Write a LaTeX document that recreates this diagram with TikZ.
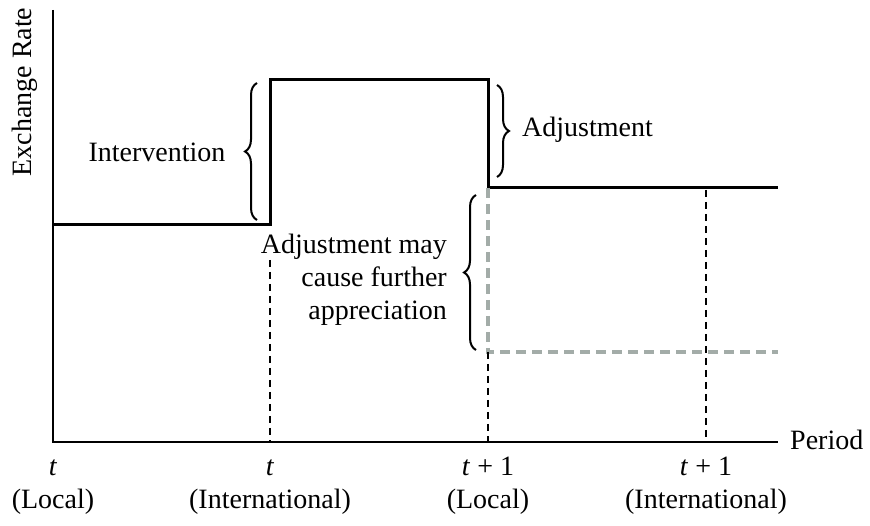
\documentclass[tikz,border=0pt]{standalone}
\usepackage{fontspec}
\setmainfont{Liberation Serif}
\usetikzlibrary{decorations.pathreplacing}

\definecolor{grayline}{RGB}{163,172,168}

\begin{document}
\begin{tikzpicture}[x=1pt,y=1pt,
            every node/.style={font=\fontsize{28}{33}\selectfont,inner sep=0pt},
            axis/.style={line width=1.4pt},
            rate/.style={line width=3pt},
            guide/.style={line width=1.2pt,dash pattern=on 7pt off 5pt},
            further/.style={grayline,line width=3.5pt,dash pattern=on 10pt off 6pt},
            bracket/.style={decorate,decoration={brace,amplitude=12pt},line width=2pt},
            ticklabel/.style={align=center,below=10pt}]

            \useasboundingbox (0,0) rectangle (870,525);

            % axes
            \coordinate (origin) at (53,83);
            \coordinate (ytop) at (53,515);
            \coordinate (xend) at (778,83);
            \draw[axis] (ytop) -- (origin) -- (xend);
            \node[rotate=90] (ylab) at (25,433) {Exchange Rate};
            \node[anchor=west] (xlab) at (790,85) {Period};

            % exchange rate path
            \coordinate (start) at (53,300);
            \coordinate (up0) at (270,300);
            \coordinate (up1) at (270,445);
            \coordinate (down0) at (488,445);
            \coordinate (down1) at (488,337);
            \coordinate (finish) at (778,337);
            \draw[rate,line join=miter] (start) -- (up0) -- (up1) -- (down0) -- (down1) -- (finish);

            % further appreciation
            \coordinate (low0) at (488,173);
            \coordinate (low1) at (778,173);
            \draw[further] (down1) -- (low0) -- (low1);

            % period guides
            \coordinate (tint) at (270,83);
            \coordinate (tloc) at (488,83);
            \coordinate (tnext) at (706,83);
            \draw[guide] (270,265) -- (tint);
            \draw[guide] (low0) -- (tloc);
            \draw[guide] (706,335) -- (tnext);

            % braces
            \draw[bracket] (257,305) -- (257,442);
            \node (interv) at (157,373) {Intervention};
            \draw[bracket] (497,440) -- (497,348);
            \node[anchor=west] (adjust) at (522,395) {Adjustment};
            \draw[bracket] (476,175) -- (476,330);
            \node[align=right,anchor=east] (maycause) at (447,245) {Adjustment may\\cause further\\appreciation};

            % period labels
            \node[ticklabel] (p1) at (origin) {\strut\textit{t}\\(Local)};
            \node[ticklabel] (p2) at (tint) {\strut\textit{t}\\(International)};
            \node[ticklabel] (p3) at (tloc) {\strut\textit{t} + 1\\(Local)};
            \node[ticklabel] (p4) at (tnext) {\strut\textit{t} + 1\\(International)};
        \end{tikzpicture}
\end{document}
